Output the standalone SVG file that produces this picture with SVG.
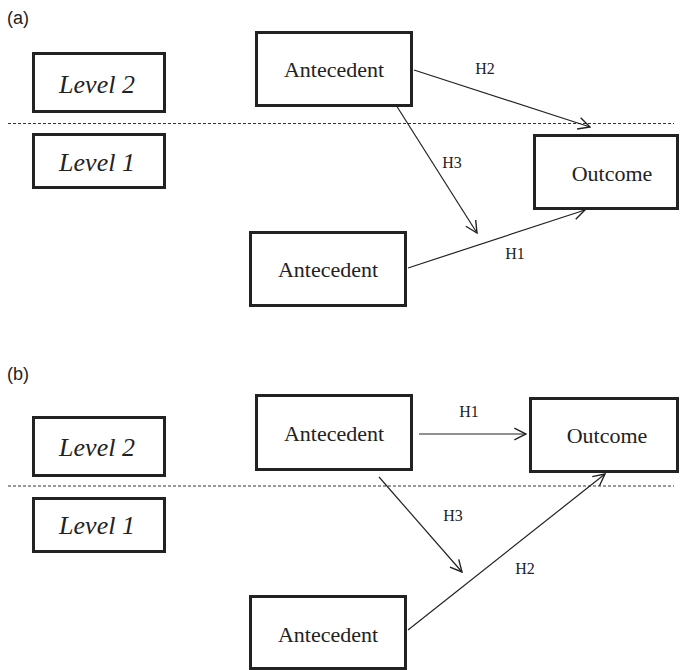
<svg xmlns="http://www.w3.org/2000/svg" width="681" height="670" viewBox="0 0 681 670">
<style>
.box{fill:#fff;stroke:#222;stroke-width:3}
.lvl{font-family:"Liberation Serif","Times New Roman",serif;font-style:italic;font-size:26px;fill:#222;text-anchor:middle}
.nm{font-family:"Liberation Serif","Times New Roman",serif;font-size:22px;fill:#222;text-anchor:middle}
.h{font-family:"Liberation Serif","Times New Roman",serif;font-size:16px;fill:#222;text-anchor:middle}
.pl{font-family:"Liberation Sans",Arial,sans-serif;font-size:18px;fill:#222}
.dash{stroke:#333;stroke-width:1;stroke-dasharray:3,2;fill:none}
.arr{stroke:#222;stroke-width:1.2;fill:none;marker-end:url(#ah)}
</style>
<defs>
<marker id="ah" markerUnits="userSpaceOnUse" markerWidth="14" markerHeight="14" viewBox="0 0 12 12" refX="11" refY="6" orient="auto">
<path d="M1,1 L11,6 L1,11" fill="none" stroke="#222" stroke-width="1.2"/>
</marker>
</defs>
<rect width="681" height="670" fill="#fff"/>
<text class="pl" x="7" y="24">(a)</text>
<text class="pl" x="7" y="380">(b)</text>
<line class="dash" x1="8" y1="123.5" x2="674" y2="123.5"/>
<line class="dash" x1="8" y1="486" x2="674" y2="486"/>
<g id="a-level2"><rect class="box" x="33.5" y="53.5" width="131" height="58"/><text class="lvl" x="97" y="93">Level 2</text></g>
<g id="a-level1"><rect class="box" x="33.5" y="134.5" width="131" height="53"/><text class="lvl" x="97" y="171">Level 1</text></g>
<g id="a-ante-top"><rect class="box" x="256.5" y="32.5" width="155" height="73"/><text class="nm" x="334" y="77">Antecedent</text></g>
<g id="a-ante-bottom"><rect class="box" x="250.5" y="232.5" width="155" height="73"/><text class="nm" x="328" y="277">Antecedent</text></g>
<g id="a-outcome"><rect class="box" x="534.5" y="135.5" width="143" height="73"/><text class="nm" x="612" y="181">Outcome</text></g>
<g id="b-level2"><rect class="box" x="33.5" y="417.5" width="131" height="58"/><text class="lvl" x="97" y="456">Level 2</text></g>
<g id="b-level1"><rect class="box" x="33.5" y="498.5" width="131" height="53"/><text class="lvl" x="97" y="534">Level 1</text></g>
<g id="b-ante-top"><rect class="box" x="256.5" y="395.5" width="155" height="74"/><text class="nm" x="334" y="441">Antecedent</text></g>
<g id="b-outcome"><rect class="box" x="530.5" y="398.5" width="147" height="73"/><text class="nm" x="607" y="443">Outcome</text></g>
<g id="b-ante-bottom"><rect class="box" x="250.5" y="596.5" width="155" height="72"/><text class="nm" x="328" y="642">Antecedent</text></g>
<g id="connectors">
<line class="arr" x1="414" y1="70" x2="590" y2="127"/>
<line class="arr" x1="396" y1="105" x2="477" y2="233"/>
<line class="arr" x1="408" y1="268" x2="585" y2="210"/>
<line class="arr" x1="419" y1="434" x2="526" y2="434"/>
<line class="arr" x1="379" y1="477" x2="462" y2="572"/>
<line class="arr" x1="408" y1="630" x2="605" y2="474"/>
<text class="h" x="485" y="74">H2</text>
<text class="h" x="452" y="168">H3</text>
<text class="h" x="515" y="259">H1</text>
<text class="h" x="469" y="417">H1</text>
<text class="h" x="453" y="521">H3</text>
<text class="h" x="525" y="574">H2</text>
</g>
</svg>
